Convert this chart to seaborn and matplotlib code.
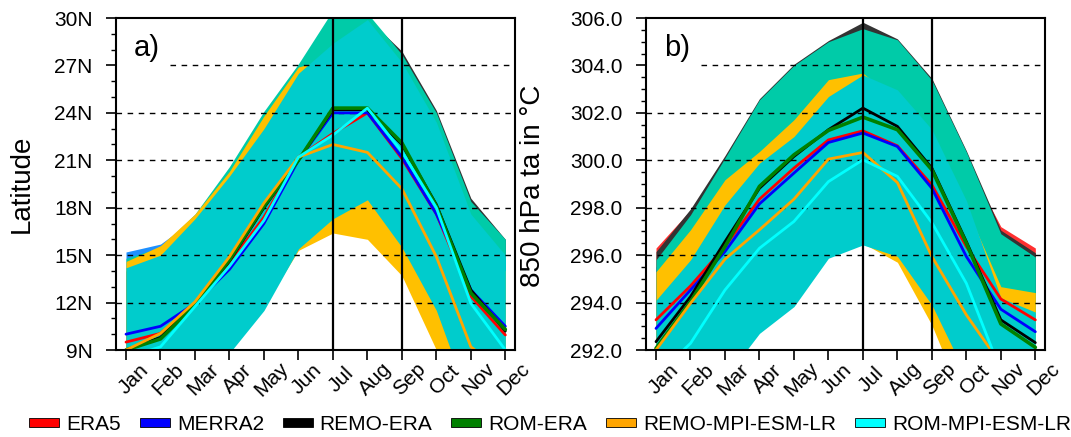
import numpy as np
import pandas as pd
import matplotlib
matplotlib.use('Agg')
import matplotlib.pyplot as plt
import matplotlib.transforms as mtransforms
from matplotlib.patches import Patch
import seaborn as sns

months = ['Jan', 'Feb', 'Mar', 'Apr', 'May', 'Jun', 'Jul', 'Aug', 'Sep', 'Oct', 'Nov', 'Dec']
names = ['ERA5', 'MERRA2', 'REMO-ERA', 'ROM-ERA', 'REMO-MPI-ESM-LR', 'ROM-MPI-ESM-LR']

# panel a: latitude of the band (lines = mean, fills = spread)
lat_era5 = [9.5, 10.05, 11.9, 14.5, 17.4, 21.2, 22.7, 24.0, 21.1, 17.6, 12.4, 9.95]
lat_merra2 = [10.0, 10.5, 11.95, 14.1, 17.0, 21.0, 24.0, 24.0, 21.2, 17.6, 12.8, 10.5]
lat_remo_era = [9.0, 9.8, 11.9, 14.6, 18.0, 21.0, 24.2, 24.2, 22.0, 18.2, 12.8, 10.2]
lat_rom_era = [9.0, 9.7, 11.85, 14.7, 18.1, 21.0, 24.3, 24.3, 22.1, 18.1, 12.6, 10.3]
lat_remo_mpi = [9.0, 10.05, 12.05, 14.9, 18.3, 21.2, 22.0, 21.5, 19.2, 14.9, 9.2, 7.5]
lat_rom_mpi = [8.5, 9.2, 11.75, 14.3, 17.2, 21.2, 22.6, 24.3, 21.55, 18.0, 11.95, 9.0]

lat_era5_hi = [13.5, 14.5, 16.5, 19.5, 22.5, 26.0, 28.0, 29.0, 26.5, 22.5, 17.0, 14.5]
lat_era5_lo = [8.0, 8.5, 9.5, 11.0, 13.0, 17.0, 18.5, 19.5, 17.0, 13.0, 9.0, 7.0]
lat_merra2_hi = [15.2, 15.7, 17.3, 19.8, 22.5, 26.0, 28.0, 29.5, 27.0, 23.0, 17.5, 14.8]
lat_merra2_lo = [8.0, 8.5, 9.5, 11.0, 13.0, 17.0, 18.5, 19.5, 17.0, 13.0, 9.0, 7.0]
lat_remo_era_hi = [14.0, 15.0, 17.0, 19.8, 23.0, 26.5, 29.0, 30.0, 27.9, 24.15, 18.6, 16.0]
lat_remo_era_lo = [8.0, 8.5, 9.5, 11.0, 13.0, 17.0, 18.5, 19.5, 17.0, 13.0, 9.0, 7.0]
lat_rom_era_hi = [14.8, 15.5, 17.6, 20.6, 24.1, 27.1, 30.5, 30.3, 27.7, 24.0, 18.4, 16.0]
lat_rom_era_lo = [8.0, 8.5, 9.5, 11.0, 13.0, 17.0, 18.5, 19.5, 17.0, 13.0, 9.0, 7.0]
lat_remo_mpi_hi = [14.6, 15.6, 17.6, 20.3, 23.8, 26.9, 27.5, 28.0, 26.0, 22.0, 16.0, 14.0]
lat_remo_mpi_lo = [5.5, 6.5, 8.0, 9.2, 11.8, 15.3, 16.4, 16.0, 13.7, 9.0, 5.0, 4.0]
lat_rom_mpi_hi = [14.2, 15.0, 17.3, 20.0, 23.0, 26.5, 28.4, 29.9, 27.2, 23.4, 17.6, 15.0]
lat_rom_mpi_lo = [5.0, 6.0, 7.5, 8.8, 11.5, 15.4, 17.3, 18.5, 15.5, 11.5, 5.5, 4.0]

# panel b: 850 hPa air temperature
ta_era5 = [293.27, 294.7, 296.36, 298.36, 299.67, 300.86, 301.24, 300.61, 298.96, 296.36, 294.15, 293.27]
ta_merra2 = [292.91, 294.53, 296.15, 298.16, 299.46, 300.75, 301.15, 300.58, 298.82, 295.94, 293.72, 292.77]
ta_remo_era = [292.35, 294.25, 296.57, 298.82, 300.16, 301.29, 302.2, 301.43, 299.67, 296.57, 293.27, 292.31]
ta_rom_era = [292.07, 294.04, 296.36, 298.9, 300.23, 301.26, 301.82, 301.29, 299.6, 296.5, 293.1, 292.11]
ta_remo_mpi = [292.0, 293.97, 295.83, 297.07, 298.36, 300.05, 300.33, 299.06, 295.94, 293.48, 291.4, 290.5]
ta_rom_mpi = [290.9, 292.28, 294.53, 296.29, 297.42, 299.1, 300.02, 299.32, 297.37, 294.81, 291.1, 290.5]

ta_era5_hi = [296.3, 297.9, 299.6, 302.0, 303.5, 304.5, 305.0, 304.6, 303.0, 300.0, 297.2, 296.3]
ta_era5_lo = [290.0, 291.0, 292.5, 294.0, 295.0, 297.0, 297.5, 297.0, 295.0, 292.5, 290.5, 290.0]
ta_merra2_hi = [295.5, 297.3, 299.3, 301.5, 303.0, 304.0, 304.6, 304.2, 302.5, 299.5, 296.5, 295.5]
ta_merra2_lo = [290.0, 291.0, 292.5, 294.0, 295.0, 297.0, 297.5, 297.0, 295.0, 292.5, 290.5, 290.0]
ta_remo_era_hi = [296.15, 297.95, 300.2, 302.6, 304.05, 305.05, 305.82, 305.12, 303.45, 300.4, 297.05, 296.1]
ta_remo_era_lo = [290.0, 291.0, 292.5, 294.0, 295.0, 297.0, 297.5, 297.0, 295.0, 292.5, 290.5, 290.0]
ta_rom_era_hi = [295.8, 297.7, 300.1, 302.55, 304.0, 305.0, 305.55, 305.08, 303.38, 300.35, 296.9, 295.92]
ta_rom_era_lo = [290.0, 291.0, 292.5, 294.0, 295.0, 297.0, 297.5, 297.0, 295.0, 292.5, 290.5, 290.0]
ta_remo_mpi_hi = [295.3, 297.07, 299.18, 300.37, 301.71, 303.4, 303.68, 302.5, 301.0, 298.0, 294.67, 294.42]
ta_remo_mpi_lo = [289.0, 290.0, 291.0, 293.0, 294.0, 296.2, 296.5, 295.7, 293.05, 289.5, 288.0, 287.0]
ta_rom_mpi_hi = [294.1, 295.8, 298.12, 299.88, 301.0, 302.69, 303.6, 302.97, 301.3, 298.3, 294.2, 293.6]
ta_rom_mpi_lo = [288.5, 289.5, 290.8, 292.7, 293.83, 295.87, 296.43, 295.95, 293.9, 290.9, 289.0, 288.0]

line_colors = ['#FF0000', '#0000FF', '#000000', '#008000', '#FFA500', '#00FFFF']
band_colors = ['#FF3030', '#1E90FF', '#333333', '#00CBA8', '#FFC000', '#00CCCC']

sns.set_style('white')
plt.rcParams['font.family'] = ['Liberation Sans', 'DejaVu Sans']
plt.rcParams['text.color'] = 'black'
plt.rcParams['axes.labelcolor'] = 'black'
plt.rcParams['xtick.color'] = 'black'
plt.rcParams['ytick.color'] = 'black'

fig = plt.figure(figsize=(10.71, 4.37), dpi=100)
ax_a = fig.add_axes([116 / 1071, 87 / 437, 399 / 1071, 332 / 437])
ax_b = fig.add_axes([646 / 1071, 87 / 437, 399 / 1071, 332 / 437])

x = np.arange(12)


def draw_panel(ax, lines, bands, ylim, yticks, ylabels, minor_step, letter, grid_start):
    for (lo, hi), c in zip(bands, band_colors):
        ax.fill_between(x, lo, hi, color=c, linewidth=0, zorder=1)
    df = pd.DataFrame({'month': np.tile(x, len(names)),
                       'value': np.concatenate(lines),
                       'source': np.repeat(names, 12)})
    for name, c in zip(names, line_colors):
        sns.lineplot(data=df[df['source'] == name], x='month', y='value', color=c,
                     linewidth=2.6 if name == 'ROM-ERA' else 2.0, ax=ax, zorder=3,
                     legend=False, sort=False)
    for y in yticks[1:-1]:
        x0 = grid_start if y == yticks[-2] else -0.3
        ax.hlines(y, x0, 11.3, colors='black', linewidth=1.0, linestyles=(0, (4, 4)), zorder=2)
    ax.axvline(6, color='black', linewidth=1.6, zorder=4)
    ax.axvline(8, color='black', linewidth=1.6, zorder=4)
    ax.set_xlim(-0.29, 11.28)
    ax.set_ylim(*ylim)
    ax.set_yticks(yticks)
    ax.set_yticklabels(ylabels)
    ax.set_yticks(np.arange(ylim[0], ylim[1] + 1e-6, minor_step), minor=True)
    ax.set_xticks(x)
    ax.set_xticklabels(months, rotation=45, ha='center', va='center', rotation_mode='anchor')
    ax.set_xlabel('')
    ax.set_ylabel('')
    ax.tick_params(axis='both', which='major', direction='out', length=7, width=1.2,
                   labelsize=15, color='black', labelcolor='black', left=True, bottom=True)
    ax.tick_params(axis='y', which='major', pad=10)
    ax.tick_params(axis='x', which='major', pad=14)
    ax.tick_params(axis='y', which='minor', direction='out', length=3.5, width=1.0, left=True)
    offset = mtransforms.ScaledTranslation(8 / 100, 0, fig.dpi_scale_trans)
    for lab in ax.get_xticklabels():
        lab.set_transform(lab.get_transform() + offset)
    for s in ax.spines.values():
        s.set_linewidth(1.5)
        s.set_color('black')
        s.set_zorder(5)
    ax.text(0.045, 0.886, letter, transform=ax.transAxes, fontsize=21, ha='left', va='baseline')


draw_panel(ax_a,
           [lat_era5, lat_merra2, lat_remo_era, lat_rom_era, lat_remo_mpi, lat_rom_mpi],
           [(lat_era5_lo, lat_era5_hi), (lat_merra2_lo, lat_merra2_hi),
            (lat_remo_era_lo, lat_remo_era_hi), (lat_rom_era_lo, lat_rom_era_hi),
            (lat_remo_mpi_lo, lat_remo_mpi_hi), (lat_rom_mpi_lo, lat_rom_mpi_hi)],
           (9, 30), list(range(9, 31, 3)), [f'{v}N' for v in range(9, 31, 3)], 1, 'a)', 1.28)

draw_panel(ax_b,
           [ta_era5, ta_merra2, ta_remo_era, ta_rom_era, ta_remo_mpi, ta_rom_mpi],
           [(ta_era5_lo, ta_era5_hi), (ta_merra2_lo, ta_merra2_hi),
            (ta_remo_era_lo, ta_remo_era_hi), (ta_rom_era_lo, ta_rom_era_hi),
            (ta_remo_mpi_lo, ta_remo_mpi_hi), (ta_rom_mpi_lo, ta_rom_mpi_hi)],
           (292, 306), list(range(292, 307, 2)), [f'{v:.1f}' for v in range(292, 307, 2)], 0.5, 'b)', 1.3)

fig.text(22 / 1071, 1 - 184 / 437, 'Latitude', rotation=90, ha='center', va='center', fontsize=20)
fig.text(533 / 1071, 1 - 186 / 437, '850 hPa ta in °C', rotation=90, ha='center', va='center', fontsize=20)

handles = [Patch(facecolor=c, edgecolor='black', linewidth=0.6) for c in line_colors]
fig.legend(handles, names, loc='center', bbox_to_anchor=(550 / 1071, (437 - 424.5) / 437),
           ncol=6, frameon=False, fontsize=15, handlelength=1.44, handleheight=0.34,
           handletextpad=0.34, columnspacing=0.9, borderpad=0, borderaxespad=0)

fig.savefig('out.png', dpi=100)
